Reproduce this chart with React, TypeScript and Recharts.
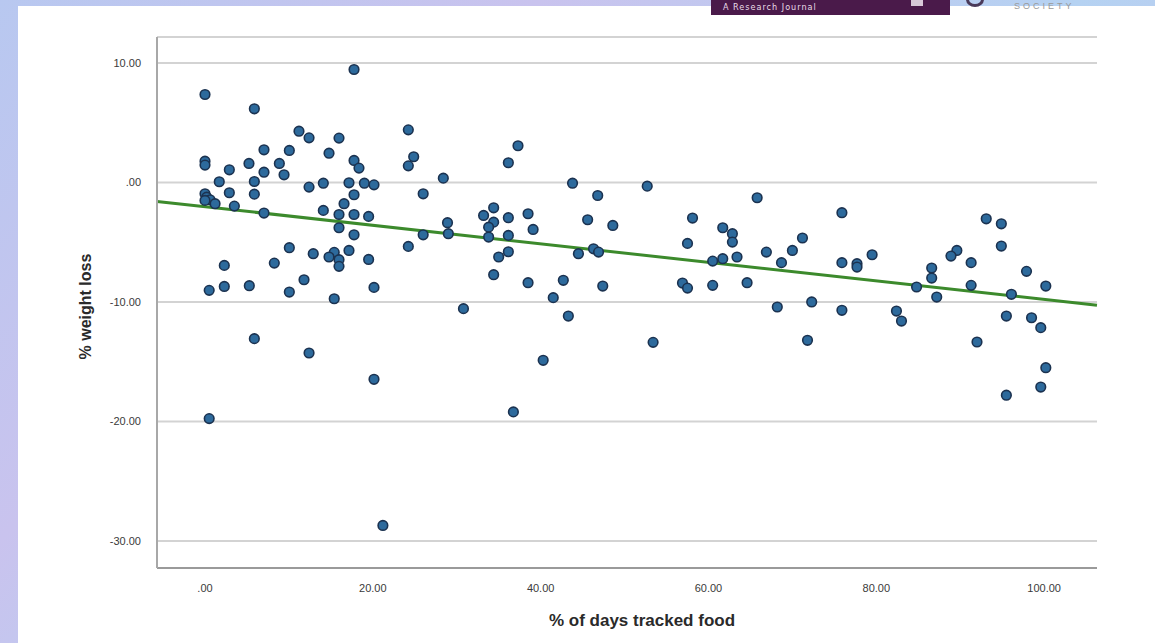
import React from 'react';
import { ScatterChart, Scatter, XAxis, YAxis, CartesianGrid, ReferenceLine } from 'recharts';

// % of days tracked food
const trackedPct: number[] = [
  0, 5.88, 17.76, 11.2, 12.4, 15.97, 7.03, 10.05, 14.78, 0,
  0, 2.9, 5.24, 7.03, 8.86, 9.42, 17.76, 18.35, 24.23, 24.87,
  24.23, 28.4, 1.7, 5.88, 12.4, 14.1, 17.16, 18.99, 20.14, 0,
  0.2, 0.6, 0, 1.2, 2.9, 5.88, 3.5, 7.03, 17.76, 16.57,
  14.1, 15.97, 17.76, 19.5, 15.97, 17.76, 26.0, 26.0, 28.9, 24.23,
  10.05, 12.9, 15.4, 14.78, 15.97, 15.97, 17.16, 19.5, 2.3, 8.26,
  11.8, 0.5, 2.3, 5.28, 10.05, 15.4, 20.14, 5.88, 12.4, 20.14,
  0.5, 21.2, 37.3, 36.15, 43.8, 52.7, 46.8, 65.8, 33.2, 34.4,
  34.4, 33.8, 36.15, 38.5, 39.1, 29.0, 33.8, 36.15, 36.15, 35.0,
  34.4, 38.5, 42.7, 47.4, 45.6, 48.6, 44.5, 46.3, 46.9, 58.1,
  57.5, 61.7, 62.85, 62.85, 63.4, 61.7, 60.5, 66.9, 56.9, 57.5,
  60.5, 64.6, 30.8, 41.5, 43.3, 53.4, 40.3, 36.75, 75.9, 71.2,
  70.0, 68.7, 75.9, 77.7, 77.7, 79.5, 93.1, 94.9, 94.9, 89.6,
  88.9, 91.3, 86.6, 86.6, 97.9, 84.8, 91.3, 100.2, 68.2, 72.3,
  75.9, 82.4, 83.0, 87.2, 96.1, 95.5, 98.5, 99.6, 92.0, 71.8,
  100.2, 99.6, 95.5,
];

// % weight loss
const weightLoss: number[] = [
  7.36, 6.16, 9.45, 4.29, 3.73, 3.71, 2.73, 2.68, 2.45, 1.78,
  1.45, 1.06, 1.59, 0.86, 1.59, 0.64, 1.84, 1.2, 4.4, 2.15,
  1.39, 0.36, 0.06, 0.08, -0.39, -0.06, -0.03, -0.06, -0.2, -0.95,
  -1.23, -1.45, -1.5, -1.78, -0.86, -0.98, -1.98, -2.56, -1.03, -1.78,
  -2.34, -2.68, -2.68, -2.84, -3.79, -4.38, -0.95, -4.38, -3.37, -5.35,
  -5.46, -5.96, -5.85, -6.24, -6.46, -7.02, -5.69, -6.44, -6.94, -6.75,
  -8.14, -9.03, -8.7, -8.64, -9.17, -9.73, -8.78, -13.07, -14.27, -16.47,
  -19.76, -28.7, 3.07, 1.65, -0.06, -0.31, -1.09, -1.28, -2.76, -2.12,
  -3.32, -3.74, -2.95, -2.62, -3.93, -4.29, -4.57, -4.43, -5.8, -6.24,
  -7.72, -8.39, -8.19, -8.67, -3.12, -3.6, -5.96, -5.55, -5.83, -2.98,
  -5.1, -3.79, -4.29, -4.99, -6.24, -6.38, -6.58, -5.83, -8.42, -8.84,
  -8.61, -8.39, -10.56, -9.64, -11.18, -13.38, -14.88, -19.2, -2.53, -4.65,
  -5.69, -6.71, -6.71, -6.8, -7.08, -6.05, -3.04, -3.46, -5.32, -5.69,
  -6.16, -6.71, -7.16, -8.0, -7.44, -8.75, -8.61, -8.67, -10.42, -10.0,
  -10.7, -10.76, -11.6, -9.59, -9.36, -11.18, -11.32, -12.15, -13.35, -13.21,
  -15.5, -17.12, -17.8,
];

const xTicks: number[] = [0, 20, 40, 60, 80, 100];
const yTicks: number[] = [-30, -20, -10, 0, 10];
const xDomain: number[] = [-5.72, 106.3];
const yDomain: number[] = [-32.26, 12.17];

// fit line: y = intercept + slope * x
const fitIntercept = -2.03;
const fitSlope = -0.0776;

const data = trackedPct.map((x, i) => ({ x, y: weightLoss[i] }));
const fitSegment = [
  { x: xDomain[0], y: fitIntercept + fitSlope * xDomain[0] },
  { x: xDomain[1], y: fitIntercept + fitSlope * xDomain[1] },
];

const fmt = (v: number) => (v === 0 ? '.00' : v.toFixed(2));

const Dot = (props: any) => {
  const { cx, cy } = props;
  if (cx == null || cy == null) return null;
  return <circle cx={cx} cy={cy} r={4.8} fill="#2d6a9c" stroke="#1b3250" strokeWidth={1.6} />;
};

const tickStyle = {
  fontSize: 11,
  fill: '#3a3a3a',
  fontFamily: '"Liberation Sans Narrow", "Arial Narrow", "Liberation Sans", sans-serif',
};

export default function App() {
  return (
    <div
      style={{
        position: 'absolute',
        left: 0,
        top: 0,
        width: 1155,
        height: 643,
        overflow: 'hidden',
        background: 'linear-gradient(135deg, #b8c8f0 0%, #c9c3ee 30%, #b5d2f2 60%, #c6bfe9 100%)',
      }}
    >
      <div style={{ position: 'absolute', left: 18, top: 6, width: 1137, height: 637, background: '#ffffff' }} />
      <div
        style={{
          position: 'absolute',
          left: 711,
          top: 0,
          width: 239,
          height: 15,
          background: '#4a1a4a',
          color: '#e8dce8',
          fontFamily: '"Liberation Sans Narrow", "DejaVu Sans Condensed", sans-serif',
          fontSize: 9,
          lineHeight: '9px',
          overflow: 'hidden',
        }}
      >
        <span style={{ position: 'absolute', left: 12, top: 3, letterSpacing: 1 }}>A Research Journal</span>
        <span style={{ position: 'absolute', left: 200, top: 0, width: 12, height: 6, background: '#d8c8d8' }} />
      </div>
      <div
        style={{
          position: 'absolute',
          left: 966,
          top: -8,
          width: 18,
          height: 15,
          borderRadius: '50%',
          border: '3px solid #4a3a5a',
          boxSizing: 'border-box',
        }}
      />
      <div
        style={{
          position: 'absolute',
          left: 1014,
          top: 1,
          fontSize: 9,
          letterSpacing: 3,
          color: '#9a9a9a',
          fontFamily: '"Liberation Sans", sans-serif',
          lineHeight: '10px',
        }}
      >
        SOCIETY
      </div>
      <div style={{ position: 'absolute', left: 0, top: 0 }}>
        <ScatterChart width={1155} height={643} margin={{ top: 37, right: 58, bottom: 45, left: 97 }}>
          <CartesianGrid vertical={false} stroke="#d3d3d3" strokeWidth={2} />
          <XAxis
            type="number"
            dataKey="x"
            domain={xDomain}
            ticks={xTicks}
            allowDataOverflow
            tickFormatter={fmt}
            tickLine={false}
            axisLine={{ stroke: '#9a9a9a', strokeWidth: 2 }}
            tick={tickStyle}
            tickMargin={10}
            height={30}
            label={{
              content: (p: any) => {
                const vb = p.viewBox || {};
                return (
                  <text
                    x={vb.x + vb.width / 2 + 15}
                    y={620}
                    textAnchor="middle"
                    dominantBaseline="central"
                    fontSize={17}
                    fontWeight="bold"
                    fill="#2a2a2a"
                    fontFamily='"Liberation Sans", Arial, sans-serif'
                  >
                    % of days tracked food
                  </text>
                );
              },
            }}
          />
          <YAxis
            type="number"
            dataKey="y"
            domain={yDomain}
            ticks={yTicks}
            allowDataOverflow
            tickFormatter={fmt}
            tickLine={false}
            axisLine={{ stroke: '#a8a8a8', strokeWidth: 2 }}
            tick={tickStyle}
            tickMargin={10}
            width={60}
            label={{
              content: (p: any) => {
                const vb = p.viewBox || {};
                const cx = vb.x - 12;
                const cy = vb.y + vb.height / 2 + 4;
                return (
                  <text
                    x={cx}
                    y={cy}
                    transform={`rotate(-90, ${cx}, ${cy})`}
                    textAnchor="middle"
                    dominantBaseline="central"
                    fontSize={16}
                    fontWeight="bold"
                    fill="#2a2a2a"
                    fontFamily='"Liberation Sans", Arial, sans-serif'
                  >
                    % weight loss
                  </text>
                );
              },
            }}
          />
          <ReferenceLine segment={fitSegment} stroke="#3c8a2c" strokeWidth={3} ifOverflow="visible" />
          <Scatter data={data} shape={<Dot />} isAnimationActive={false} />
        </ScatterChart>
      </div>
    </div>
  );
}
